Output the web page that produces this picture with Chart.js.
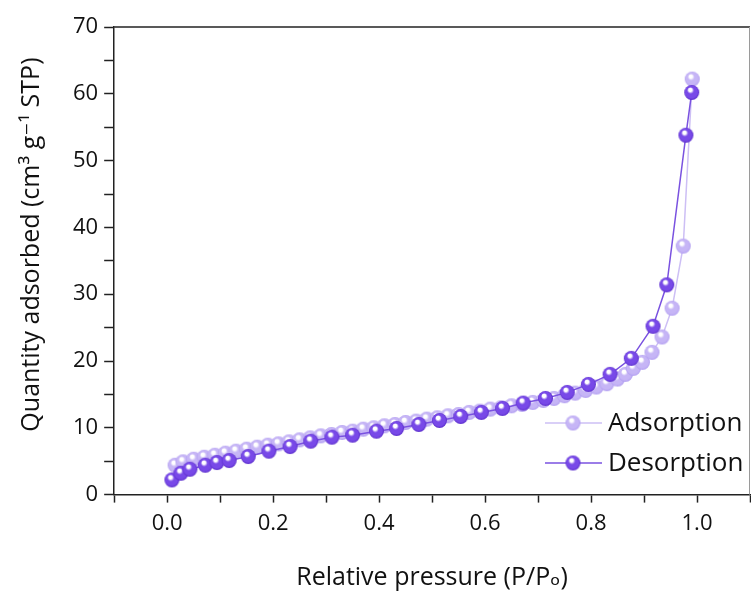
<!DOCTYPE html>
<html>
<head>
<meta charset="utf-8">
<script src="https://cdn.jsdelivr.net/npm/chart.js@4.4.1/dist/chart.umd.min.js"></script>
<style>
  html, body { margin: 0; padding: 0; background: #fff; }
  #wrap { width: 751px; height: 597px; position: relative; }
</style>
</head>
<body>
<div id="wrap"><canvas id="grafico"></canvas></div>
<script>
// dados (P/Po, cm3/g STP)
const adsX = [0.015, 0.03, 0.05, 0.07, 0.09, 0.11, 0.13, 0.15, 0.17, 0.19, 0.21, 0.23, 0.25, 0.27, 0.29,
  0.31, 0.33, 0.35, 0.37, 0.39, 0.41, 0.43, 0.45, 0.47, 0.49, 0.51, 0.53, 0.55, 0.57, 0.59,
  0.61, 0.63, 0.65, 0.67, 0.69, 0.71, 0.73, 0.75, 0.77, 0.79, 0.81, 0.83, 0.85, 0.865, 0.88,
  0.897, 0.915, 0.934, 0.953, 0.974, 0.991];
const adsY = [4.4, 4.9, 5.3, 5.6, 5.9, 6.2, 6.5, 6.8, 7.1, 7.4, 7.6, 7.9, 8.2, 8.5, 8.8,
  9.0, 9.3, 9.5, 9.8, 10.0, 10.3, 10.5, 10.8, 11.0, 11.3, 11.5, 11.8, 12.0, 12.3, 12.5,
  12.8, 13.0, 13.3, 13.5, 13.8, 14.1, 14.4, 14.8, 15.2, 15.6, 16.1, 16.6, 17.3, 18.0, 18.9,
  19.8, 21.3, 23.6, 27.9, 37.2, 62.2];

const desX = [0.009, 0.026, 0.043, 0.072, 0.094, 0.117, 0.153, 0.192, 0.232, 0.271, 0.311, 0.35,
  0.395, 0.433, 0.475, 0.514, 0.554, 0.593, 0.633, 0.672, 0.714, 0.755, 0.795, 0.836, 0.876,
  0.917, 0.943, 0.979, 0.99];
const desY = [2.2, 3.2, 3.8, 4.4, 4.8, 5.1, 5.7, 6.5, 7.2, 8.0, 8.6, 8.9,
  9.5, 9.9, 10.5, 11.1, 11.7, 12.3, 12.9, 13.7, 14.4, 15.3, 16.5, 18.0, 20.4,
  25.2, 31.4, 53.8, 60.2];

const xTicksMajor = [0.0, 0.2, 0.4, 0.6, 0.8, 1.0];
const yTicksMajor = [0, 10, 20, 30, 40, 50, 60, 70];

const FONTE = "'Open Sans', 'DejaVu Sans', sans-serif";

// bolinha com brilho (esfera)
function criarBola(cor, corEscura, r) {
  const c = document.createElement('canvas');
  c.width = c.height = Math.ceil(r * 2 + 2);
  const ctx = c.getContext('2d');
  const cx = c.width / 2, cy = c.height / 2;
  const g = ctx.createRadialGradient(cx - r * 0.25, cy - r * 0.45, r * 0.05, cx, cy, r);
  g.addColorStop(0, '#ffffff');
  g.addColorStop(0.2, '#ffffff');
  g.addColorStop(0.42, cor);
  g.addColorStop(0.8, cor);
  g.addColorStop(1, corEscura);
  ctx.fillStyle = g;
  ctx.beginPath();
  ctx.arc(cx, cy, r, 0, Math.PI * 2);
  ctx.fill();
  return c;
}

const bolaAds = criarBola('#c6b5f6', '#b09cf0', 7.5);
const bolaDes = criarBola('#7849e8', '#5a2dca', 7.5);

function criarSimbolo(bola, corLinha) {
  const c = document.createElement('canvas');
  c.width = 57; c.height = 20;
  const ctx = c.getContext('2d');
  ctx.strokeStyle = corLinha;
  ctx.lineWidth = 1.5;
  ctx.beginPath();
  ctx.moveTo(0, 10); ctx.lineTo(57, 10);
  ctx.stroke();
  ctx.drawImage(bola, 28 - bola.width / 2, 10 - bola.height / 2);
  return c;
}

// moldura + legenda dentro da área do gráfico
const pluginMoldura = {
  id: 'moldura',
  afterDraw(chart) {
    const { ctx, chartArea: a } = chart;
    ctx.save();
    ctx.strokeStyle = '#222';
    ctx.lineWidth = 1.5;
    ctx.beginPath();
    ctx.moveTo(a.left, a.top); ctx.lineTo(a.right, a.top);
    ctx.stroke();
    ctx.strokeStyle = '#9a9a9a';
    ctx.lineWidth = 1;
    ctx.beginPath();
    ctx.moveTo(a.right - 0.5, a.top); ctx.lineTo(a.right - 0.5, a.bottom);
    ctx.stroke();

    const itens = [
      { texto: 'Adsorption', simbolo: criarSimbolo(bolaAds, '#cdbff5') },
      { texto: 'Desorption', simbolo: criarSimbolo(bolaDes, '#7a52e0') }
    ];
    ctx.font = `26px ${FONTE}`;
    ctx.fillStyle = '#111';
    ctx.textBaseline = 'middle';
    itens.forEach((it, i) => {
      const y = 423 + i * 40;
      ctx.drawImage(it.simbolo, 545, y - 10);
      ctx.fillText(it.texto, 608, y + 1);
    });
    ctx.restore();
  }
};

const pontos = (xs, ys) => xs.map((x, i) => ({ x, y: ys[i] }));

new Chart(document.getElementById('grafico'), {
  type: 'line',
  data: {
    datasets: [
      {
        label: 'Adsorption',
        data: pontos(adsX, adsY),
        borderColor: '#cdbff5',
        borderWidth: 1.5,
        pointStyle: bolaAds,
        order: 2,
        tension: 0
      },
      {
        label: 'Desorption',
        data: pontos(desX, desY),
        borderColor: '#7a52e0',
        borderWidth: 1.5,
        pointStyle: bolaDes,
        order: 1,
        tension: 0
      }
    ]
  },
  options: {
    responsive: true,
    maintainAspectRatio: false,
    animation: false,
    layout: { autoPadding: false, padding: { top: 27, right: 1, left: 0, bottom: 0 } },
    plugins: {
      legend: { display: false },
      tooltip: { enabled: false }
    },
    scales: {
      x: {
        type: 'linear',
        min: -0.1,
        max: 1.1,
        afterFit: s => { s.paddingLeft = 0; s.paddingRight = 0; },
        border: { color: '#222', width: 1.5 },
        grid: { drawOnChartArea: false, drawTicks: true, tickLength: 8, tickColor: '#222', tickWidth: 1.5 },
        ticks: {
          stepSize: 0.1,
          autoSkip: false,
          maxRotation: 0,
          padding: 8,
          color: '#111',
          font: { family: FONTE, size: 22 },
          callback: v => {
            const m = xTicksMajor.find(t => Math.abs(t - v) < 1e-6);
            return m === undefined ? '' : m.toFixed(1);
          }
        },
        title: {
          display: true,
          text: 'Relative pressure (P/Pₒ)',
          color: '#111',
          font: { family: FONTE, size: 25 },
          padding: { top: 18, bottom: 4 }
        }
      },
      y: {
        min: 0,
        max: 70,
        border: { color: '#222', width: 1.5 },
        grid: { drawOnChartArea: false, drawTicks: true, tickLength: 10, tickColor: '#222', tickWidth: 1.5 },
        ticks: {
          stepSize: 5,
          autoSkip: false,
          padding: 6,
          color: '#111',
          font: { family: FONTE, size: 22 },
          callback: v => (yTicksMajor.includes(v) ? String(v) : '')
        },
        title: {
          display: true,
          text: '     Quantity adsorbed (cm³ g⁻¹ STP)',
          color: '#111',
          font: { family: FONTE, size: 25 },
          padding: { top: 17, bottom: 20 }
        }
      }
    }
  },
  plugins: [pluginMoldura]
});
</script>
</body>
</html>
